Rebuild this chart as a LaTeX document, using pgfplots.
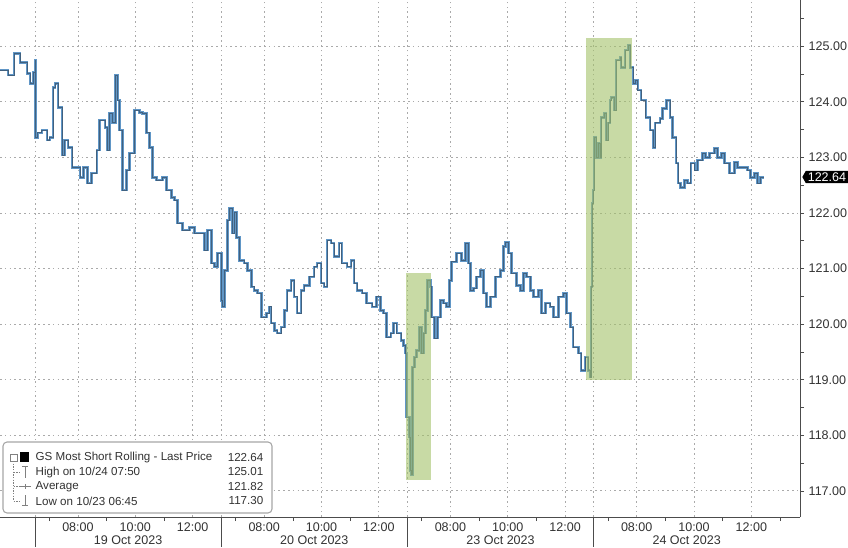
\documentclass[border=0pt]{standalone}
\usepackage{fontspec}
\setmainfont{Liberation Sans}
\usepackage{pgfplots}
\pgfplotsset{compat=1.18}
\usepackage{pgfplotstable}
\usetikzlibrary{shapes.symbols}

\definecolor{linblue}{RGB}{96,150,198}
\definecolor{lindark}{RGB}{40,55,70}
\definecolor{hlgreen}{RGB}{163,193,105}
\definecolor{gridgray}{RGB}{170,170,170}
\definecolor{txt}{RGB}{50,50,50}

% hours from 19 Oct 06:30, each session 06:30-13:00 = 6.5 h
\pgfplotstableread{
h v
-1.22 124.57
-0.94 124.48
-0.73 124.87
-0.52 124.71
-0.28 124.51
-0.17 124.33
-0.07 124.53
0.00 124.75
0.02 123.36
0.10 123.44
0.24 123.49
0.42 123.31
0.52 123.36
0.63 124.26
0.70 124.33
0.80 123.90
0.94 123.04
1.04 123.31
1.15 123.18
1.29 122.82
1.43 122.82
1.57 122.64
1.70 122.82
1.84 122.54
1.98 122.72
2.16 123.13
2.26 123.67
2.44 123.54
2.54 123.13
2.61 123.79
2.71 123.62
2.82 124.48
2.89 124.03
2.96 123.49
3.06 122.41
3.20 122.77
3.30 123.08
3.48 123.85
3.65 123.81
3.76 123.79
3.90 123.44
4.00 123.18
4.10 122.64
4.24 122.59
4.45 122.64
4.59 122.41
4.77 122.28
4.87 122.23
4.97 121.82
5.15 121.69
5.39 121.74
5.57 121.64
5.74 121.64
5.91 121.33
6.02 121.69
6.16 121.10
6.26 121.03
6.37 121.28
6.50 120.43
6.54 120.31
6.61 120.97
6.71 121.87
6.78 122.09
6.89 121.64
6.96 122.01
7.03 121.56
7.13 121.15
7.30 121.10
7.41 120.97
7.55 120.67
7.65 120.61
7.76 120.56
7.90 120.13
8.07 120.20
8.17 120.31
8.24 120.02
8.35 119.89
8.45 119.84
8.59 119.95
8.70 120.25
8.80 120.61
8.94 120.79
9.04 120.49
9.15 120.20
9.29 120.61
9.39 120.70
9.57 120.85
9.74 121.03
9.84 121.10
9.98 120.74
10.09 120.67
10.19 121.51
10.33 121.46
10.44 121.21
10.61 121.46
10.71 121.10
10.89 121.03
11.03 121.15
11.13 120.74
11.24 120.61
11.41 120.56
11.58 120.38
11.76 120.31
11.93 120.49
12.07 120.25
12.17 120.20
12.28 119.77
12.42 119.84
12.52 120.02
12.63 119.84
12.77 119.71
12.87 119.62
12.94 119.48
12.96 118.33
13.01 118.33
13.08 117.97
13.11 117.37
13.15 117.30
13.18 119.23
13.25 119.41
13.32 119.53
13.43 119.95
13.50 119.48
13.57 119.84
13.64 120.25
13.70 120.79
13.81 120.67
13.84 120.13
13.95 119.75
14.05 120.13
14.16 120.43
14.26 120.38
14.37 120.31
14.47 120.79
14.54 121.12
14.71 121.28
14.89 121.15
15.03 121.46
15.13 121.10
15.20 120.61
15.30 120.65
15.41 120.85
15.55 120.97
15.65 120.56
15.76 120.31
15.90 120.49
16.07 120.85
16.24 120.97
16.35 121.39
16.42 121.47
16.52 121.28
16.63 120.92
16.80 120.70
16.94 120.61
17.04 120.92
17.15 120.85
17.29 120.61
17.39 120.49
17.57 120.61
17.67 120.20
17.81 120.38
17.98 120.31
18.09 120.13
18.26 120.49
18.44 120.56
18.54 120.20
18.68 119.95
18.78 119.59
18.96 119.48
19.06 119.17
19.20 119.41
19.30 119.17
19.37 119.05
19.41 120.67
19.44 122.18
19.48 122.41
19.51 123.36
19.58 123.00
19.65 123.26
19.72 123.00
19.76 123.72
19.86 123.79
19.93 123.31
20.00 123.62
20.07 124.03
20.10 124.08
20.21 123.85
20.28 124.75
20.42 124.80
20.45 124.62
20.59 124.93
20.70 125.01
20.77 124.62
20.87 124.33
20.97 124.39
21.04 124.21
21.15 124.03
21.32 123.72
21.46 123.49
21.57 123.18
21.64 123.62
21.81 123.70
21.91 123.88
22.05 124.03
22.16 123.72
22.26 123.36
22.37 122.90
22.44 122.54
22.54 122.46
22.68 122.59
22.78 122.54
22.89 122.90
23.03 122.77
23.13 122.95
23.30 123.08
23.41 123.00
23.55 123.08
23.72 123.17
23.83 123.00
23.97 123.08
24.07 122.90
24.24 122.72
24.42 122.91
24.52 122.82
24.70 122.82
24.87 122.77
24.97 122.64
25.11 122.72
25.22 122.54
25.32 122.64
25.43 122.64
}\gsdata

\begin{document}
\begin{tikzpicture}
\begin{axis}[
    scale only axis,
    width=600pt, height=387.75pt,
    xmin=-1.22, xmax=26.7,
    ymin=116.53, ymax=125.83,
    axis x line*=bottom, axis y line*=right,
    axis line style={black!70, line width=0.6pt},
    xtick={1.5,3.5,5.5,8,10,12,14.5,16.5,18.5,21,23,25},
    xticklabels={08:00,10:00,12:00,08:00,10:00,12:00,08:00,10:00,12:00,08:00,10:00,12:00},
    extra x ticks={0,6.5,13,19.5},
    extra x tick labels={},
    minor xtick={0.5,2.5,4.5,7,9,11,13.5,15.5,17.5,20,22,24,26},
    ytick={117,118,119,120,121,122,123,124,125},
    yticklabels={117.00,118.00,119.00,120.00,121.00,122.00,123.00,124.00,125.00},
    minor ytick={116.5,117.5,118.5,119.5,120.5,121.5,122.5,123.5,124.5,125.5},
    tick align=outside,
    major tick length=3pt, minor tick length=3pt,
    every major x tick/.append style={draw=none},
    tick style={black!70, line width=0.5pt},
    grid=major,
    major grid style={gridgray, dash pattern=on 1.2pt off 2.4pt, line width=0.6pt},
    xticklabel style={font=\fontsize{9.4}{10}\selectfont, text=txt, yshift=2.5pt},
    yticklabel style={font=\fontsize{9.4}{10}\selectfont, text=txt},
    clip=false,
]
\addplot[const plot, color=linblue, line width=2pt] table {\gsdata};
\addplot[const plot, color=lindark, opacity=0.55, line width=0.55pt] table {\gsdata};
\fill[hlgreen, fill opacity=0.6] (axis cs:12.94,117.19) rectangle (axis cs:13.81,120.92);
\fill[hlgreen, fill opacity=0.6] (axis cs:19.23,118.99) rectangle (axis cs:20.83,125.14);
\end{axis}

% decorations placed in picture pixels (origin top left, 1 px = 0.75 pt)
\begin{scope}[shift={(current axis.north west)}, x=0.75pt, y=-0.75pt,
    font=\fontsize{9.4}{10}\selectfont]
  % session separators under the axis
  \foreach \sx in {35,221.2,407.5,593.7}
    \draw[black!70, line width=0.6pt] (\sx,517) -- (\sx,547);
  % date labels
  \node[text=txt] at (128.1,540.5) {19 Oct 2023};
  \node[text=txt] at (314.3,540.5) {20 Oct 2023};
  \node[text=txt] at (500.5,540.5) {23 Oct 2023};
  \node[text=txt] at (686.7,540.5) {24 Oct 2023};
  % last price tag
  \node[signal, signal to=west, signal pointer angle=120, fill=black,
        text=white, inner xsep=1.5pt, inner ysep=1.2pt, anchor=west]
        at (802,177) {122.64};
  % legend
  \draw[gray!70, line width=0.8pt, rounded corners=3pt, fill=white]
        (3,442) rectangle (272,513);
  \draw[gray, line width=0.5pt] (10,454) rectangle (17,461);
  \fill[black] (20,452) rectangle (29,462);
  \draw[gray, line width=0.5pt, dash pattern=on 1pt off 1pt]
        (13.5,461) -- (13.5,501)
        (13.5,472) -- (19,472) (13.5,486.5) -- (19,486.5) (13.5,501) -- (19,501);
  \draw[gray, line width=0.6pt] (22,466) -- (28,466) (25,466) -- (25,478);
  \draw[gray, line width=0.6pt] (19,486.5) -- (31,486.5) (25,484) -- (25,489);
  \draw[gray, line width=0.6pt] (25,495) -- (25,505) (22,505) -- (28,505);
  \begin{scope}[font=\fontsize{8.7}{10}\selectfont]
  \node[anchor=west, text=txt] at (31,457.5) {GS Most Short Rolling - Last Price};
  \node[anchor=west, text=txt] at (31,472) {High on 10/24 07:50};
  \node[anchor=west, text=txt] at (31,486.5) {Average};
  \node[anchor=west, text=txt] at (31,501) {Low on 10/23 06:45};
  \node[anchor=east, text=txt] at (268,457.5) {122.64};
  \node[anchor=east, text=txt] at (268,472) {125.01};
  \node[anchor=east, text=txt] at (268,486.5) {121.82};
  \node[anchor=east, text=txt] at (268,501) {117.30};
  \end{scope}
  % picture size
  \pgfresetboundingbox
  \path (0,0) rectangle (848,547);
\end{scope}
\end{tikzpicture}
\end{document}
